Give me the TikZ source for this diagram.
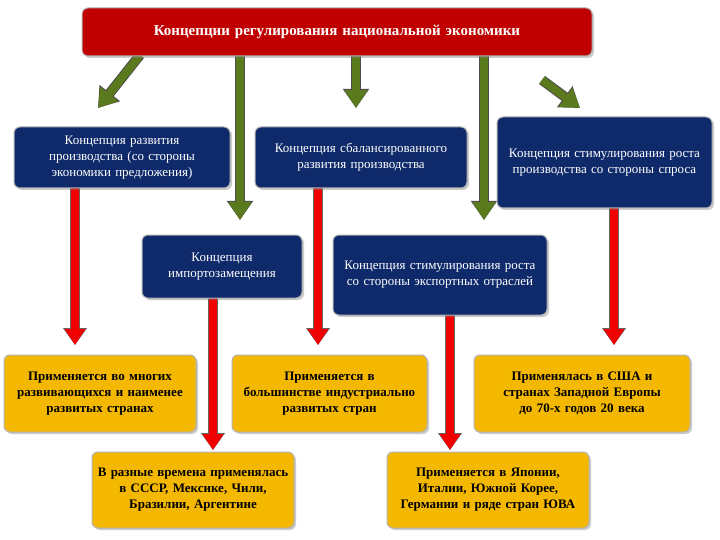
\documentclass[tikz,border=0pt]{standalone}
\usepackage{fontspec}
\setmainfont{Liberation Serif}
\usetikzlibrary{arrows.meta,shadows}
\definecolor{tred}{HTML}{C00000}
\definecolor{tblue}{HTML}{0E2A6A}
\definecolor{tyel}{HTML}{F5B800}
\definecolor{tgreen}{HTML}{5B7A1E}
\definecolor{ared}{HTML}{F00000}
\begin{document}
\begin{tikzpicture}[x=1pt,y=-1pt,
 box/.style={rounded corners=6pt,draw=gray!60,line width=1pt,drop shadow={opacity=0.4,shadow xshift=2pt,shadow yshift=-2pt},inner sep=2pt,align=center,font=\fontsize{13}{16}\selectfont},
 bbox/.style={box,fill=tblue,text=white},
 ybox/.style={box,fill=tyel,text=black,font=\fontsize{13}{16}\selectfont\bfseries},
 garr/.style={draw=tgreen,line width=8pt,-{Triangle[length=18pt,width=22pt]},preaction={draw=black!70,line width=10pt,-{Triangle[length=19pt,width=25pt]}}},
 rarr/.style={draw=ared,line width=8pt,-{Triangle[length=16pt,width=20pt]},preaction={draw=black!60,line width=10pt,-{Triangle[length=17pt,width=23pt]}}}]
\useasboundingbox (0,0) rectangle (720,540);
\fill[white] (0,0) rectangle (720,540);
\def\bx#1#2#3#4#5#6#7{\node[#2,minimum width=#5-#3,minimum height=#6-#4,text width=#5-#3-8] (#1) at ({(#3+#5)/2},{(#4+#6)/2}) {#7};}
% arrows first (behind boxes)
\coordinate (g1s) at (140,55); \coordinate (g1e) at (98,108);
\coordinate (g2s) at (240,55); \coordinate (g2e) at (240,220);
\coordinate (g3s) at (356,55); \coordinate (g3e) at (356,108);
\coordinate (g4s) at (484,55); \coordinate (g4e) at (484,220);
\coordinate (g5s) at (542,80); \coordinate (g5e) at (580,108);
\draw[garr] (g1s) -- (g1e);
\draw[garr] (g2s) -- (g2e);
\draw[garr] (g3s) -- (g3e);
\draw[garr] (g4s) -- (g4e);
\draw[garr] (g5s) -- (g5e);
\draw[rarr] (75,188) -- (75,345);
\draw[rarr] (318,188) -- (318,345);
\draw[rarr] (614,205) -- (614,345);
\draw[rarr] (213,298) -- (213,450);
\draw[rarr] (450,314) -- (450,450);
\bx{top}{box,fill=tred,text=white,font=\fontsize{15}{18}\selectfont\bfseries}{82}{8}{592}{56}{Концепции регулирования национальной экономики}
\bx{a}{bbox}{14}{127}{230}{188}{Концепция развития производства (со стороны экономики предложения)}
\bx{b}{bbox}{255}{127}{467}{188}{Концепция сбалансированного развития производства}
\bx{c}{bbox}{497}{117}{712}{208}{Концепция стимулирования роста производства со стороны спроса}
\bx{d}{bbox}{142}{235}{302}{298}{Концепция импортозамещения}
\bx{e}{bbox}{333}{235}{547}{315}{Концепция стимулирования роста со стороны экспортных отраслей}
\bx{f}{ybox}{4}{355}{196}{432}{Применяется во многих развивающихся и наименее развитых странах}
\bx{g}{ybox}{232}{355}{427}{432}{Применяется в большинстве индустриально развитых стран}
\bx{h}{ybox}{474}{355}{690}{432}{Применялась в США и странах Западной Европы до 70-х годов 20 века}
\bx{i}{ybox}{92}{452}{294}{528}{В разные времена применялась в СССР, Мексике, Чили, Бразилии, Аргентине}
\bx{j}{ybox}{387}{452}{589}{528}{Применяется в Японии, Италии, Южной Корее, Германии и ряде стран ЮВА}
\end{tikzpicture}
\end{document}
